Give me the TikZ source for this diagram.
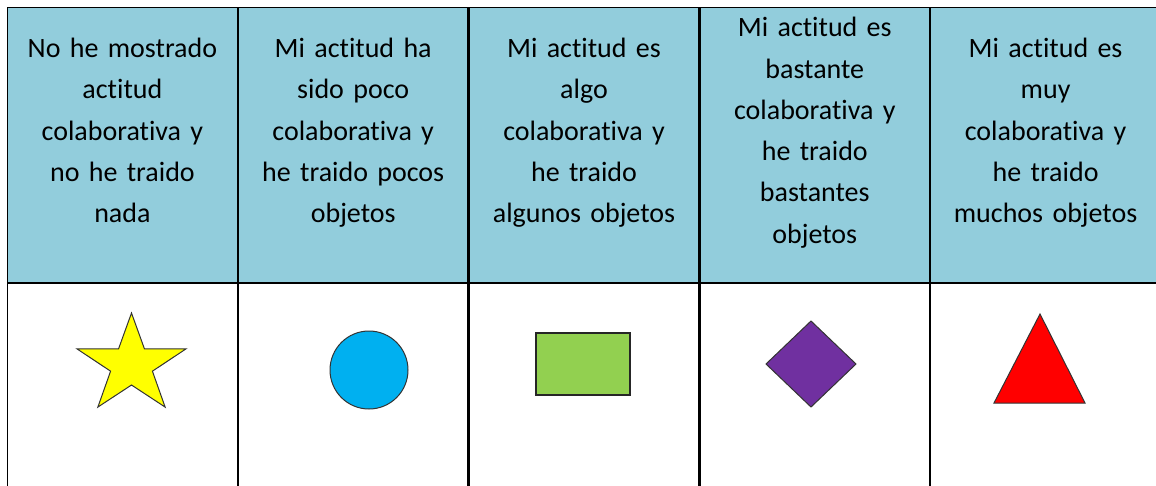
\documentclass[tikz,border=0pt]{standalone}
\usepackage{fontspec}
\setmainfont{Carlito}[Ligatures=NoCommon]
\usepackage{tikz}
\usetikzlibrary{matrix}
\usepackage{xcolor}
\definecolor{headblue}{HTML}{92CDDC}
\definecolor{starfill}{HTML}{FFFF00}
\definecolor{circfill}{HTML}{00B0F0}
\definecolor{rectfill}{HTML}{92D050}
\definecolor{diamfill}{HTML}{7030A0}
\definecolor{trifill}{HTML}{FF0000}

\begin{document}
\begin{tikzpicture}[x=1pt, y=1pt,
    shapeline/.style={draw=black!80, line width=1pt, line join=miter}]
    \useasboundingbox (0,0) rectangle (1156,-485);
    \clip (0,0) rectangle (1156,-485);
    \matrix (tbl) [matrix of nodes, nodes in empty cells,
            anchor=north west, inner sep=0pt, outer sep=0pt,
            nodes={draw, line width=1.3pt, outer sep=0pt, inner sep=4pt,
                   anchor=center, minimum width=229.5pt, text width=212pt,
                   align=center, font=\fontsize{28}{41.3}\selectfont},
            row 1/.style={nodes={fill=headblue, minimum height=274.7pt,
                   text height=20pt, text depth=195.2pt}},
            row 2/.style={nodes={minimum height=220pt}},
            row sep=0pt, column sep=0pt] at (7,-7) {
      {No he mostrado\\actitud\\colaborativa y\\no he traido\\nada} &
      {Mi actitud ha\\sido poco\\colaborativa y\\he traido pocos\\objetos} &
      {Mi actitud es\\algo\\colaborativa y\\he traido\\algunos objetos} &
      |[text depth=236.5pt]| {Mi actitud es\\bastante\\colaborativa y\\he traido\\bastantes\\objetos} &
      {Mi actitud es\\muy\\colaborativa y\\he traido\\muchos objetos} \\
      & & & & \\
    };
    \begin{scope}[shift={(131.5,-365)}, xscale=1.1]
      \draw[shapeline, fill=starfill] (90:52) -- (126:20) -- (162:52) -- (198:20)
        -- (234:52) -- (270:20) -- (306:52) -- (342:20) -- (18:52) -- (54:20) -- cycle;
    \end{scope}
    \draw[shapeline, fill=circfill] (369,-370) circle (39);
    \draw[shapeline, line width=1.8pt, draw=black!85, fill=rectfill] (536,-333) rectangle (630,-395);
    \draw[shapeline, fill=diamfill] (811,-321) -- (856,-364) -- (811,-407) -- (766,-364) -- cycle;
    \draw[shapeline, fill=trifill] (1040,-314) -- (1085,-403) -- (994,-403) -- cycle;
\end{tikzpicture}
\end{document}
